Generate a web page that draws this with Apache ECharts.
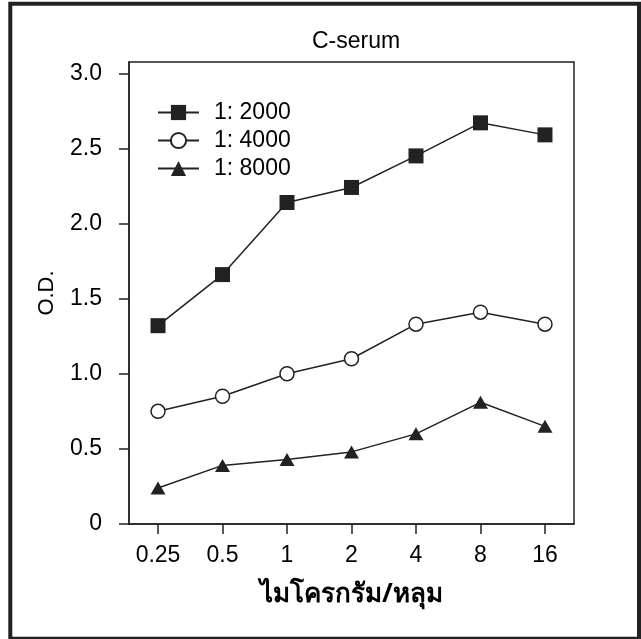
<!DOCTYPE html>
<html>
<head>
<meta charset="utf-8">
<script src="https://cdn.jsdelivr.net/npm/echarts@6/dist/echarts.min.js"></script>
<style>
  html, body { margin: 0; padding: 0; background: #fff; }
  #chart { width: 641px; height: 639px; }
</style>
</head>
<body>
<div id="chart"></div>
<script>
// Antigen amount per well (µg/well), shown as evenly spaced categories
const categories = ['0.25', '0.5', '1', '2', '4', '8', '16'];
const yTicks = [0, 0.5, 1.0, 1.5, 2.0, 2.5, 3.0];

// O.D. readings for each serum dilution
const od2000 = [1.32, 1.66, 2.14, 2.24, 2.45, 2.67, 2.59];
const od4000 = [0.75, 0.85, 1.00, 1.10, 1.33, 1.41, 1.33];
const od8000 = [0.24, 0.39, 0.43, 0.48, 0.60, 0.81, 0.65];

const seriesNames = ['1: 2000', '1: 4000', '1: 8000'];

const ink = '#222';
const font = '"Liberation Sans", Arial, "Noto Sans", sans-serif';
const thaiFont = '"Noto Sans", "DejaVu Sans", "Liberation Sans", sans-serif';

const toPairs = arr => arr.map((v, i) => [i, v]);

const chart = echarts.init(document.getElementById('chart'));
chart.setOption({
  animation: false,
  backgroundColor: '#fff',
  textStyle: { fontFamily: font, color: '#000' },
  title: {
    text: 'C-serum',
    left: 307,
    top: 25,
    textStyle: { fontFamily: font, fontSize: 23, fontWeight: 'normal', color: '#000' }
  },
  grid: {
    left: 129, top: 62, right: 67, bottom: 115,
    show: true, borderColor: ink, borderWidth: 1.5, backgroundColor: 'transparent'
  },
  legend: {
    orient: 'vertical',
    left: 152,
    top: 96,
    itemWidth: 41,
    itemHeight: 19,
    itemGap: 5,
    textStyle: { fontFamily: font, fontSize: 23, color: '#000', padding: [0, 0, 0, 10] },
    data: seriesNames
  },
  xAxis: {
    type: 'value',
    min: -0.45,
    max: 6.45,
    name: 'ไมโครกรัม/หลุม',
    nameLocation: 'middle',
    nameGap: 58,
    nameTextStyle: { fontFamily: thaiFont, fontSize: 26, fontWeight: 'bold', color: '#000' },
    axisLine: { onZero: false, lineStyle: { color: ink, width: 1.5 } },
    axisTick: { show: true, length: 10, lineStyle: { color: ink, width: 1.5 }, customValues: [0, 1, 2, 3, 4, 5, 6] },
    axisLabel: {
      fontSize: 23, color: '#000', margin: 20,
      customValues: [0, 1, 2, 3, 4, 5, 6],
      formatter: v => categories[Math.round(v)]
    },
    splitLine: { show: false }
  },
  yAxis: {
    type: 'value',
    min: 0,
    max: 3.075,
    name: 'O.D.',
    nameLocation: 'middle',
    nameGap: 71,
    nameTextStyle: { fontFamily: font, fontSize: 22, color: '#000' },
    axisLine: { show: true, onZero: false, lineStyle: { color: ink, width: 1.5 } },
    axisTick: { show: true, length: 10, lineStyle: { color: ink, width: 1.5 }, customValues: yTicks },
    axisLabel: {
      fontSize: 23, color: '#000', margin: 27,
      customValues: yTicks,
      formatter: v => (v === 0 ? '0' : v.toFixed(1))
    },
    splitLine: { show: false }
  },
  series: [
    {
      name: seriesNames[0], type: 'line', data: toPairs(od2000),
      symbol: 'rect', symbolSize: 15,
      lineStyle: { color: ink, width: 1.5 },
      itemStyle: { color: ink, borderColor: ink, borderWidth: 0 }
    },
    {
      name: seriesNames[1], type: 'line', data: toPairs(od4000),
      symbol: 'circle', symbolSize: 14,
      lineStyle: { color: ink, width: 1.5 },
      itemStyle: { color: '#fff', borderColor: ink, borderWidth: 1.5 }
    },
    {
      name: seriesNames[2], type: 'line', data: toPairs(od8000),
      symbol: 'triangle', symbolSize: [15, 13],
      lineStyle: { color: ink, width: 1.5 },
      itemStyle: { color: ink, borderColor: ink, borderWidth: 0 }
    }
  ],
  graphic: [
    {
      type: 'rect',
      shape: { x: 10.3, y: 3.7, width: 628.7, height: 635 },
      style: { fill: 'none', stroke: ink, lineWidth: 4 },
      silent: true
    }
  ]
});
</script>
</body>
</html>
